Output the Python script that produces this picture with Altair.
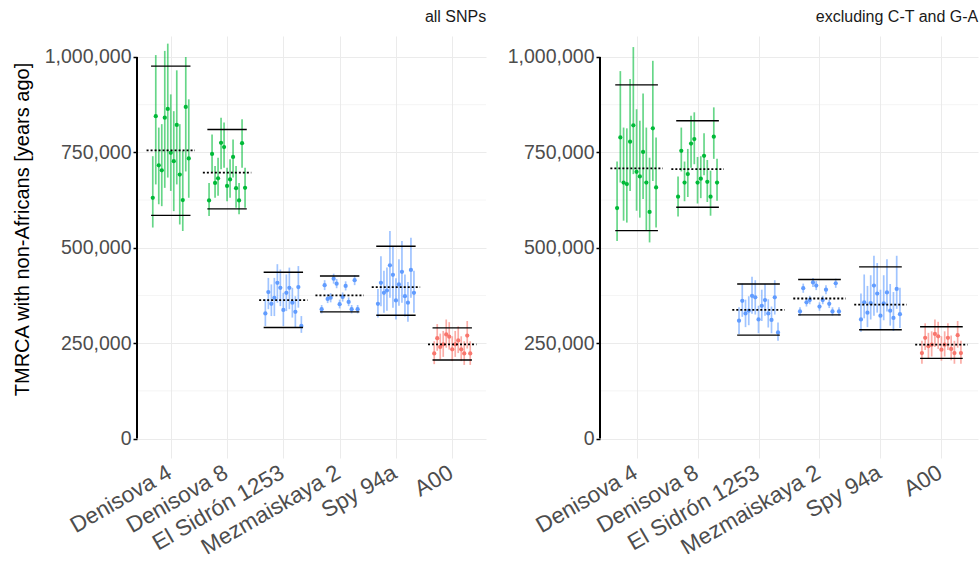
import json
import altair as alt
import pandas as pd

# Samples compared against non-African Y chromosomes
groups = ["Denisova 4", "Denisova 8", "El Sidrón 1253", "Mezmaiskaya 2", "Spy 94a", "A00"]
lineage = ["Denisovan", "Denisovan", "Neanderthal", "Neanderthal", "Neanderthal", "A00"]
lineage_names = ["A00", "Denisovan", "Neanderthal"]
lineage_colors = ["#F8766D", "#00BA38", "#619CFF"]

# TMRCA estimates (thousands of years), one row per sample, 13 comparisons each
est_all_k = [
    [631, 845, 716, 703, 841, 864, 749, 727, 822, 692, 625, 869, 734],
    [624, 746, 670, 682, 775, 764, 662, 679, 738, 656, 624, 774, 657],
    [328, 384, 353, 369, 408, 395, 337, 382, 395, 356, 332, 397, 295],
    [339, 402, 366, 369, 419, 406, 352, 371, 400, 358, 339, 415, 339],
    [353, 408, 382, 388, 454, 429, 362, 404, 437, 373, 356, 442, 382],
    [223, 263, 240, 247, 273, 267, 234, 247, 257, 234, 223, 270, 223],
]
lo_all_k = [
    [553, 666, 614, 609, 657, 684, 649, 596, 666, 561, 544, 700, 631],
    [583, 697, 631, 636, 706, 710, 622, 631, 684, 605, 588, 710, 605],
    [295, 339, 321, 321, 356, 347, 295, 334, 339, 317, 290, 343, 277],
    [328, 389, 355, 357, 406, 394, 341, 359, 388, 347, 328, 402, 328],
    [317, 347, 330, 335, 369, 343, 312, 348, 356, 320, 306, 369, 330],
    [195, 230, 208, 214, 238, 233, 203, 214, 224, 203, 193, 236, 193],
]
hi_all_k = [
    [740, 1005, 815, 824, 1016, 1035, 902, 858, 965, 824, 754, 1000, 889],
    [670, 797, 714, 736, 841, 828, 710, 732, 784, 714, 670, 837, 710],
    [365, 421, 404, 421, 457, 443, 382, 430, 448, 395, 373, 452, 321],
    [350, 415, 378, 381, 432, 418, 364, 383, 412, 370, 350, 428, 350],
    [392, 478, 440, 448, 544, 504, 420, 470, 518, 430, 410, 526, 440],
    [255, 300, 275, 282, 312, 305, 268, 282, 294, 268, 255, 308, 255],
]
mean_all_k = [755, 697, 363, 375, 397, 247]
upper_all_k = [976, 810, 436, 426, 504, 290]
lower_all_k = [585, 602, 291, 332, 323, 206]

est_ex_k = [
    [604, 789, 671, 667, 778, 821, 699, 687, 751, 671, 594, 813, 658],
    [634, 754, 671, 693, 773, 785, 671, 681, 741, 673, 634, 791, 671],
    [309, 361, 328, 335, 374, 370, 312, 348, 363, 328, 311, 370, 278],
    [333, 394, 357, 363, 409, 401, 346, 363, 390, 353, 333, 407, 333],
    [312, 357, 330, 355, 401, 380, 322, 354, 383, 335, 316, 392, 326],
    [224, 264, 242, 246, 274, 268, 233, 246, 264, 235, 224, 271, 224],
]
lo_ex_k = [
    [518, 671, 571, 566, 649, 693, 597, 579, 628, 545, 514, 675, 553],
    [582, 700, 622, 633, 710, 719, 616, 630, 690, 620, 584, 733, 623],
    [274, 319, 292, 297, 327, 325, 276, 308, 322, 291, 276, 325, 256],
    [322, 382, 346, 352, 397, 389, 335, 352, 378, 342, 322, 395, 322],
    [280, 315, 292, 312, 322, 330, 287, 310, 333, 296, 282, 340, 290],
    [196, 232, 211, 215, 240, 235, 204, 215, 232, 205, 196, 238, 196],
]
hi_ex_k = [
    [726, 963, 815, 813, 942, 1026, 863, 833, 904, 815, 736, 990, 789],
    [687, 815, 726, 759, 846, 855, 738, 740, 800, 730, 702, 868, 733],
    [344, 406, 364, 373, 424, 415, 348, 390, 405, 365, 346, 415, 304],
    [344, 406, 368, 374, 421, 413, 357, 374, 402, 364, 344, 419, 344],
    [380, 430, 400, 428, 479, 460, 390, 428, 470, 405, 384, 479, 395],
    [256, 302, 277, 281, 312, 306, 268, 281, 302, 270, 256, 308, 256],
]
mean_ex_k = [708, 706, 337, 367, 351, 246]
upper_ex_k = [927, 833, 405, 417, 450, 293]
lower_ex_k = [545, 606, 271, 324, 285, 210]

y_breaks = [0, 250000, 500000, 750000, 1000000]
y_minor = [125000, 375000, 625000, 875000]

FONT = "Liberation Sans"
GRID = "#EBEBEB"
DODGE = 0.0533        # spacing between the 13 comparisons inside a sample
HALF_SOLID = 0.35
HALF_DOTTED = 0.43
PLOT_H = 422

x_scale = alt.Scale(domain=[0.4, 6.6], nice=False, zero=False)
y_scale = alt.Scale(domain=[-51000, 1055000], nice=False, zero=False)
color_scale = alt.Scale(domain=lineage_names, range=lineage_colors)
label_expr = json.dumps(groups) + "[datum.value - 1]"


def panel(title, est, lo, hi, mean, upper, lower, width, y_title):
    rows = []
    for g in range(len(groups)):
        for j, v in enumerate(est[g]):
            rows.append({
                "x": g + 1 + (j - 6) * DODGE,
                "est": v * 1000,
                "lo": lo[g][j] * 1000,
                "hi": hi[g][j] * 1000,
                "lineage": lineage[g],
            })
    pts = pd.DataFrame(rows)
    summ = pd.DataFrame({
        "pos": list(range(1, 7)),
        "mean": [m * 1000 for m in mean],
        "upper": [u * 1000 for u in upper],
        "lower": [l * 1000 for l in lower],
    })
    summ["s0"] = summ["pos"] - HALF_SOLID
    summ["s1"] = summ["pos"] + HALF_SOLID
    summ["d0"] = summ["pos"] - HALF_DOTTED
    summ["d1"] = summ["pos"] + HALF_DOTTED

    x_axis = alt.Axis(
        values=[1, 2, 3, 4, 5, 6], labelExpr=label_expr, title=None,
        labelAngle=-30, labelAlign="right", labelBaseline="top",
        labelOverlap=False, labelFlush=False, labelBound=False,
        labelFont=FONT, labelFontSize=22.5, labelColor="#4D4D4D",
        labelPadding=3, labelOffset=-7,
        domain=False, ticks=False, grid=True, gridColor=GRID, gridWidth=1,
    )
    y_kwargs = dict(
        values=y_breaks, format=",.0f",
        labelFont=FONT, labelFontSize=19.5, labelColor="#4D4D4D", labelPadding=2,
        domain=False, ticks=True, tickColor="#000000", tickSize=4, tickWidth=1.5,
        grid=True, gridColor=GRID, gridWidth=1,
    )
    if y_title:
        y_axis = alt.Axis(
            title=y_title, titleFont=FONT, titleFontSize=20,
            titleFontWeight="normal", titleColor="#000000", titlePadding=12,
            titleY=193, **y_kwargs,
        )
    else:
        y_axis = alt.Axis(title=None, **y_kwargs)

    base = alt.Chart(pts)
    minor = alt.Chart(pd.DataFrame({"y": y_minor})).mark_rule(
        color=GRID, strokeWidth=0.5
    ).encode(
        y=alt.Y("y:Q", scale=y_scale, axis=y_axis),
        x=alt.value(0), x2=alt.value(width),
    )
    bars = base.mark_rule(strokeWidth=1.7, opacity=0.6).encode(
        x=alt.X("x:Q", scale=x_scale, axis=x_axis),
        y=alt.Y("lo:Q", scale=y_scale),
        y2="hi:Q",
        color=alt.Color("lineage:N", scale=color_scale, legend=None),
    )
    dots = base.mark_circle(size=18, opacity=1).encode(
        x=alt.X("x:Q", scale=x_scale),
        y=alt.Y("est:Q", scale=y_scale),
        color=alt.Color("lineage:N", scale=color_scale, legend=None),
    )
    sb = alt.Chart(summ)
    upper_line = sb.mark_rule(color="#000000", strokeWidth=1.4).encode(
        x=alt.X("s0:Q", scale=x_scale), x2="s1:Q",
        y=alt.Y("upper:Q", scale=y_scale),
    )
    lower_line = sb.mark_rule(color="#000000", strokeWidth=1.4).encode(
        x=alt.X("s0:Q", scale=x_scale), x2="s1:Q",
        y=alt.Y("lower:Q", scale=y_scale),
    )
    mean_line = sb.mark_rule(color="#000000", strokeWidth=1.8, strokeDash=[2, 2]).encode(
        x=alt.X("d0:Q", scale=x_scale), x2="d1:Q",
        y=alt.Y("mean:Q", scale=y_scale),
    )
    axis_line = alt.Chart(pd.DataFrame({"y0": [0], "y1": [1000000]})).mark_rule(
        color="#000000", strokeWidth=2
    ).encode(
        x=alt.value(0), y=alt.Y("y0:Q", scale=y_scale), y2="y1:Q",
    )
    return alt.layer(
        minor, bars, dots, upper_line, lower_line, mean_line, axis_line
    ).properties(
        width=width, height=PLOT_H,
        title=alt.TitleParams(
            title, anchor="end", font=FONT, fontSize=16, fontWeight="normal",
            color="#1A1A1A", offset=11,
        ),
    )


left = panel("all SNPs", est_all_k, lo_all_k, hi_all_k, mean_all_k,
             upper_all_k, lower_all_k, 349, "TMRCA with non-Africans [years ago]")
right = panel("excluding C-T and G-A", est_ex_k, lo_ex_k, hi_ex_k, mean_ex_k,
              upper_ex_k, lower_ex_k, 378, None)

chart = alt.hconcat(left, right, spacing=20).properties(
    padding={"left": 12, "top": 9, "right": 0, "bottom": 0},
    background="white",
).configure_view(stroke=None)

chart.save("out.html", embed_options={"renderer": "svg", "actions": False})
